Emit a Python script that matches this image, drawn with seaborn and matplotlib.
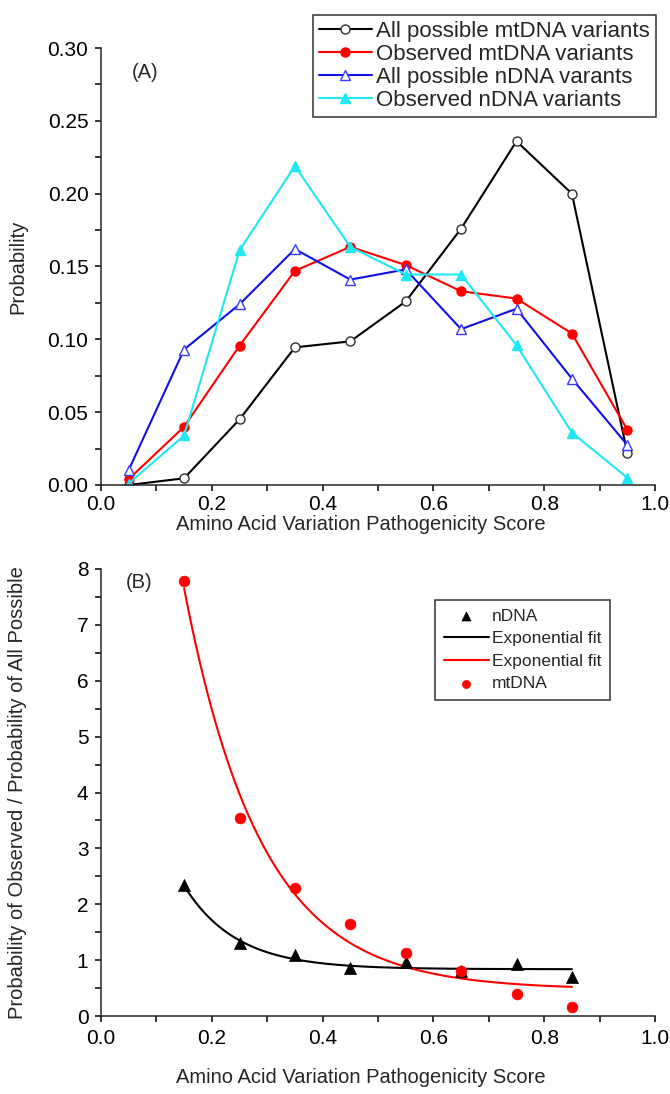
import numpy as np
import pandas as pd
import matplotlib
matplotlib.use("Agg")
import matplotlib.pyplot as plt
import seaborn as sns
from matplotlib.ticker import MultipleLocator, FormatStrFormatter

# ---------------- data ----------------
score_bins = [0.05, 0.15, 0.25, 0.35, 0.45, 0.55, 0.65, 0.75, 0.85, 0.95]
all_mtdna = [0.000, 0.0046, 0.045, 0.0945, 0.0986, 0.126, 0.176, 0.236, 0.200, 0.022]
obs_mtdna = [0.004, 0.040, 0.0956, 0.147, 0.1635, 0.151, 0.133, 0.128, 0.104, 0.038]
all_ndna = [0.0103, 0.093, 0.124, 0.162, 0.141, 0.148, 0.107, 0.121, 0.073, 0.0275]
obs_ndna = [0.001, 0.034, 0.161, 0.219, 0.1635, 0.1445, 0.1445, 0.096, 0.036, 0.005]

ratio_bins = [0.15, 0.25, 0.35, 0.45, 0.55, 0.65, 0.75, 0.85]
ratio_ndna = [2.34, 1.30, 1.09, 0.86, 0.97, 0.80, 0.93, 0.69]
ratio_mtdna = [7.79, 3.54, 2.29, 1.64, 1.13, 0.81, 0.39, 0.17]

labels_a = ["All possible mtDNA variants", "Observed mtDNA variants",
            "All possible nDNA varants", "Observed nDNA variants"]

# ---------------- style ----------------
sns.set_theme(style="ticks")
plt.rcParams['font.family'] = ['Liberation Sans', 'DejaVu Sans']
plt.rcParams['axes.linewidth'] = 1.1
FS_TICK = 15
FS_LAB = 14.5

fig = plt.figure(figsize=(6.7, 10.94), dpi=100)
axA = fig.add_axes([101/670, 1-485/1094, (655-101)/670, (485-48)/1094])
axB = fig.add_axes([101/670, 1-1016/1094, (655-101)/670, (1016-569)/1094])

dfA = pd.DataFrame({"score": score_bins, "all_mt": all_mtdna, "obs_mt": obs_mtdna,
                    "all_n": all_ndna, "obs_n": obs_ndna})

specs = [
    ("all_mt", labels_a[0], "black", "o", "white", "#303030", 6.5),
    ("obs_mt", labels_a[1], "#ff0000", "o", "#ff0000", "#ff0000", 6.5),
    ("all_n", labels_a[2], "#1010e8", "^", "white", "#3a3aff", 7.5),
    ("obs_n", labels_a[3], "#1ee8f2", "^", "#1ee8f2", "#1ee8f2", 7.5),
]
for col, lab, c, m, mfc, mec, ms in specs:
    sns.lineplot(data=dfA, x="score", y=col, ax=axA, color=c, marker=m,
                 markerfacecolor=mfc, markeredgecolor=mec, markersize=ms,
                 markeredgewidth=1.0, linewidth=1.5, label=lab)

YLAB_X = (27 - 101) / 554

def style_axis(ax, label_y, xpad):
    sns.despine(ax=ax)
    ax.set_xlim(0, 1.0)
    ax.xaxis.set_major_locator(MultipleLocator(0.2))
    ax.xaxis.set_minor_locator(MultipleLocator(0.1))
    ax.xaxis.set_major_formatter(FormatStrFormatter('%.1f'))
    ax.tick_params(which='both', direction='out', length=4.5, width=1.1,
                   labelsize=FS_TICK, colors='black', pad=4.5)
    ax.tick_params(axis='x', which='both', pad=xpad)
    ax.set_xlabel("Amino Acid Variation Pathogenicity Score", fontsize=FS_LAB)
    ax.xaxis.set_label_coords(0.469, label_y)

style_axis(axA, -0.069, 3)
axA.set_ylim(0, 0.30)
axA.yaxis.set_major_locator(MultipleLocator(0.05))
axA.yaxis.set_minor_locator(MultipleLocator(0.025))
axA.yaxis.set_major_formatter(FormatStrFormatter('%.2f'))
axA.set_ylabel("Probability", fontsize=FS_LAB)
axA.yaxis.set_label_coords(YLAB_X, 0.5)
axA.text(0.055, 0.945, "(A)", transform=axA.transAxes, fontsize=FS_LAB, va='center', ha='left')
legA = axA.legend(loc='upper left', bbox_to_anchor=(313/670, 1-15/1094),
                  bbox_transform=fig.transFigure, frameon=True, fancybox=False,
                  edgecolor='black', fontsize=16, handlelength=2.4, handletextpad=0.2,
                  borderpad=0.25, labelspacing=0.1, borderaxespad=0)
legA.get_frame().set_linewidth(1.1)

# ---------------- panel B ----------------
def exp_fit(x, y):
    x = np.asarray(x, float); y = np.asarray(y, float)
    best = None
    for t in np.logspace(-3, 1, 4000):
        M = np.column_stack([np.ones_like(x), np.exp(-x / t)])
        coef, *_ = np.linalg.lstsq(M, y, rcond=None)
        r = np.sum((M @ coef - y) ** 2)
        if best is None or r < best[0]:
            best = (r, t, coef)
    _, t, (y0, A) = best
    xs = np.linspace(x.min(), x.max(), 200)
    return xs, y0 + A * np.exp(-xs / t)

dfB = pd.DataFrame({"score": ratio_bins, "ndna": ratio_ndna, "mtdna": ratio_mtdna})
xn, yn = exp_fit(ratio_bins, ratio_ndna)
xm, ym = exp_fit(ratio_bins, ratio_mtdna)

sns.scatterplot(data=dfB, x="score", y="ndna", ax=axB, marker="^", color="black",
                s=75, edgecolor="black", linewidth=0.5, label="nDNA", zorder=3)
sns.lineplot(x=xn, y=yn, ax=axB, color="black", linewidth=1.5, label="Exponential fit")
sns.lineplot(x=xm, y=ym, ax=axB, color="#ff0000", linewidth=1.5, label="Exponential fit")
sns.scatterplot(data=dfB, x="score", y="mtdna", ax=axB, marker="o", color="#ff0000",
                s=60, edgecolor="#ff0000", linewidth=0.5, label="mtDNA", zorder=3)

style_axis(axB, -0.117, 4.5)
axB.set_ylim(0, 8)
axB.yaxis.set_major_locator(MultipleLocator(1))
axB.yaxis.set_minor_locator(MultipleLocator(0.5))
axB.yaxis.set_major_formatter(FormatStrFormatter('%d'))
axB.set_ylabel("Probability of Observed / Probability of All Possible", fontsize=FS_LAB)
axB.yaxis.set_label_coords(YLAB_X, 0.5)
axB.text(0.045, 0.97, "(B)", transform=axB.transAxes, fontsize=FS_LAB, va='center', ha='left')

h, l = axB.get_legend_handles_labels()
legB = axB.legend(h, l, loc='upper left', bbox_to_anchor=(435/670, 1-600/1094),
                  bbox_transform=fig.transFigure, frameon=True, fancybox=False,
                  edgecolor='black', fontsize=12.5, handlelength=2.6, handletextpad=0.2,
                  borderpad=0.5, labelspacing=0.42, borderaxespad=0, markerscale=0.75)
legB.get_frame().set_linewidth(1.1)

fig.savefig("out.png", dpi=100)
